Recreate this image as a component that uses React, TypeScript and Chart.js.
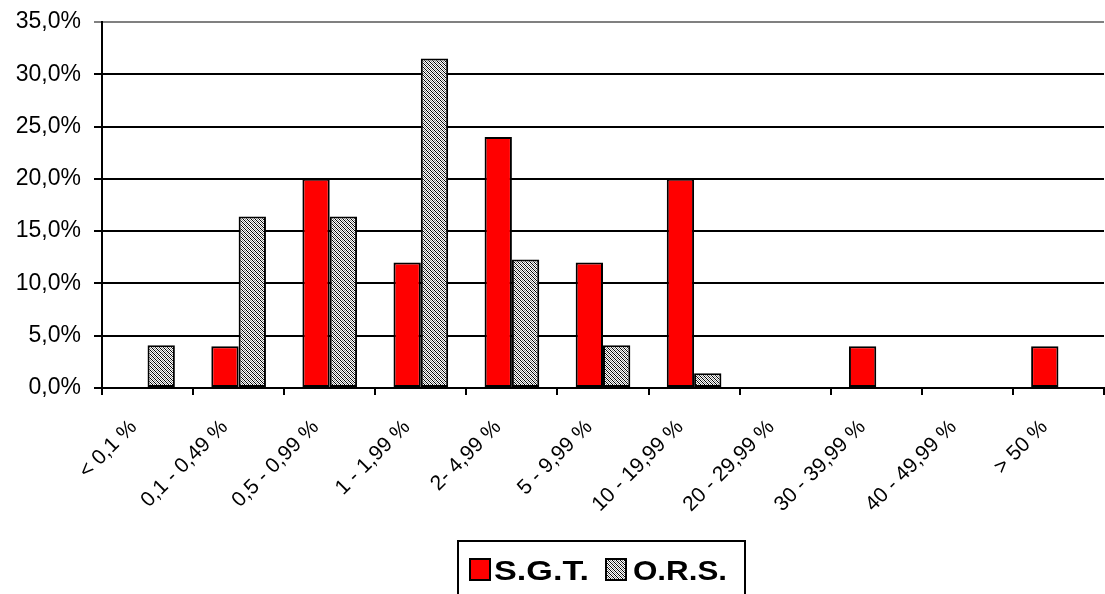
import React, { useEffect, useRef } from "react";
import { Chart, registerables } from "chart.js";

Chart.register(...registerables);

const categories = [
  "< 0,1 %",
  "0,1 - 0,49 %",
  "0,5 - 0,99 %",
  "1 - 1,99 %",
  "2- 4,99 %",
  "5 - 9,99 %",
  "10 - 19,99 %",
  "20 - 29,99 %",
  "30 - 39,99 %",
  "40 - 49,99 %",
  "> 50 %",
];
const sgtValues = [0, 4, 20, 12, 24, 12, 20, 0, 4, 0, 4];
const orsValues = [4.1, 16.4, 16.4, 31.5, 12.3, 4.1, 1.4, 0, 0, 0, 0];
const seriesLabels = ["S.G.T.", "O.R.S."];
const yTicks = [0, 5, 10, 15, 20, 25, 30, 35];

function makePattern(): CanvasPattern | string {
  const c = document.createElement("canvas");
  c.width = 4;
  c.height = 4;
  const g = c.getContext("2d");
  if (!g) return "#aaaaaa";
  g.fillStyle = "#ffffff";
  g.fillRect(0, 0, 4, 4);
  for (let y = 0; y < 4; y++) {
    for (let x = 0; x < 4; x++) {
      const d = (x - y + 8) % 4;
      if (d === 0) {
        g.fillStyle = "#000000";
        g.fillRect(x, y, 1, 1);
      } else if (d === 2) {
        g.fillStyle = "#8a8a8a";
        g.fillRect(x, y, 1, 1);
      }
    }
  }
  const p = g.createPattern(c, "repeat");
  return p || "#aaaaaa";
}

export default function App() {
  const ref = useRef<HTMLCanvasElement | null>(null);

  useEffect(() => {
    document.body.style.margin = "0";
    const canvas = ref.current;
    if (!canvas) return;
    const pattern = makePattern();
    const fills: any[] = ["#ff0000", pattern];

    const legendPlugin = {
      id: "boxLegend",
      afterDraw(chart: any) {
        const ctx = chart.ctx;
        ctx.save();
        ctx.lineWidth = 2;
        ctx.strokeStyle = "#000";
        ctx.strokeRect(458, 541, 287, 70);
        const items = [
          { box: 470, text: 494, w: 95 },
          { box: 606, text: 633, w: 94 },
        ];
        ctx.font = "bold 28px Arial, 'Liberation Sans', sans-serif";
        ctx.textBaseline = "alphabetic";
        ctx.textAlign = "left";
        chart.data.datasets.forEach((ds: any, i: number) => {
          const it = items[i];
          ctx.fillStyle = fills[i];
          ctx.fillRect(it.box, 559, 20, 21);
          ctx.lineWidth = 2;
          ctx.strokeStyle = "#000";
          ctx.strokeRect(it.box, 559, 20, 21);
          ctx.fillStyle = "#000";
          const mw = ctx.measureText(ds.label).width;
          const sx = it.w / mw;
          ctx.save();
          ctx.translate(it.text, 580);
          ctx.scale(sx, 1);
          ctx.fillText(ds.label, 0, 0);
          ctx.restore();
        });
        ctx.restore();
      },
    };

    const chart = new Chart(canvas, {
      type: "bar",
      data: {
        labels: categories,
        datasets: [
          {
            label: seriesLabels[0],
            data: sgtValues,
            backgroundColor: fills[0],
            borderColor: "#000",
            borderWidth: 2,
            borderSkipped: false,
          },
          {
            label: seriesLabels[1],
            data: orsValues,
            backgroundColor: fills[1],
            borderColor: "#000",
            borderWidth: 2,
            borderSkipped: false,
          },
        ],
      },
      options: {
        animation: false,
        responsive: false,
        maintainAspectRatio: false,
        layout: { padding: { top: 22, right: 1, left: 0, bottom: 0 } },
        datasets: {
          bar: { categoryPercentage: 0.6, barPercentage: 1 },
        },
        plugins: {
          legend: { display: false },
          tooltip: { enabled: false },
        },
        scales: {
          x: {
            offset: true,
            grid: {
              offset: true,
              drawOnChartArea: false,
              drawTicks: true,
              tickLength: 7,
              color: "#000",
              lineWidth: 2,
            },
            border: { color: "#000", width: 2 },
            ticks: {
              color: "#000",
              font: { family: "Arial, 'Liberation Sans', sans-serif", size: 21 },
              minRotation: 45,
              maxRotation: 45,
              autoSkip: false,
              padding: 20,
              labelOffset: -14,
            },
            afterFit: (s: any) => {
              s.height = 206;
              s.paddingLeft = 0;
              s.paddingRight = 0;
              s.paddingTop = 0;
              s.paddingBottom = 0;
            },
          },
          y: {
            min: 0,
            max: 35,
            afterBuildTicks: (s: any) => {
              s.ticks = yTicks.map((v) => ({ value: v }));
            },
            grid: {
              color: (c: any) =>
                c.tick && c.tick.value === 35 ? "#808080" : "#000",
              lineWidth: 2,
              drawTicks: true,
              tickLength: 8,
            },
            border: { color: "#000", width: 2 },
            ticks: {
              color: "#000",
              padding: 13,
              font: { family: "Arial, 'Liberation Sans', sans-serif", size: 23 },
              callback: (v: any) =>
                Number(v).toFixed(1).replace(".", ",") + "%",
            },
            afterFit: (s: any) => {
              s.width = 102;
              s.paddingTop = 0;
              s.paddingBottom = 0;
            },
          },
        },
      },
      plugins: [legendPlugin],
    });
    return () => chart.destroy();
  }, []);

  return (
    <div style={{ position: "fixed", left: 0, top: 0, width: 1105, height: 594, background: "#fff" }}>
      <canvas ref={ref} width={1105} height={594} style={{ display: "block" }} />
    </div>
  );
}
